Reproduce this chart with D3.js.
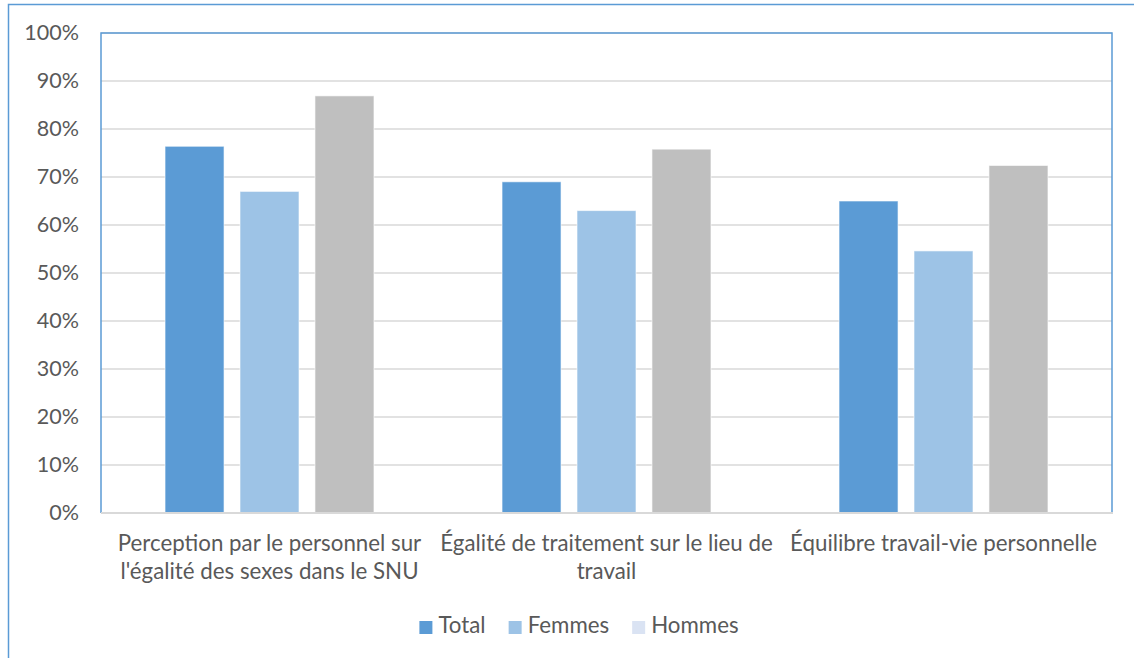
<!DOCTYPE html>
<html lang="fr">
<head>
<meta charset="utf-8">
<title>Égalité des sexes</title>
<script src="https://cdn.jsdelivr.net/npm/d3@7/dist/d3.min.js"></script>
<style>
  body { margin: 0; background: #fff; }
  .chart text { font-family: Lato, "Open Sans", sans-serif; fill: #595959; }
</style>
</head>
<body>
<svg class="chart" width="1134" height="658"></svg>
<script>
// data
var categories = [
  ["Perception par le personnel sur", "l'égalité des sexes dans le SNU"],
  ["Égalité de traitement sur le lieu de", "travail"],
  ["Équilibre travail-vie personnelle"]
]
var series = ["Total", "Femmes", "Hommes"]
var total  = [0.764, 0.690, 0.650]
var femmes = [0.670, 0.630, 0.546]
var hommes = [0.869, 0.758, 0.724]
var yTicks = [0, 0.1, 0.2, 0.3, 0.4, 0.5, 0.6, 0.7, 0.8, 0.9, 1]

var values = [total, femmes, hommes]
var colors = ["#5b9bd5", "#9dc3e6", "#bfbfbf"]
// the legend swatch for Hommes is a pale blue in the original
var legendColors = ["#5b9bd5", "#9dc3e6", "#dae3f3"]

var svg = d3.select(".chart")
var plot = {left: 101, right: 1112, top: 33, bottom: 513}

var x0 = d3.scaleBand()
  .domain(d3.range(categories.length))
  .range([plot.left, plot.right])

var gw = x0.bandwidth()
var x1 = d3.scaleBand()
  .domain(series)
  .range([gw * 0.19, gw * 0.81])
  .paddingInner(0.213)

var y = d3.scaleLinear()
  .domain([0, 1])
  .range([plot.bottom, plot.top])

// outer chart border (runs off the right and bottom edges)
svg.append("rect")
  .attr("x", 8.5).attr("y", 4.5)
  .attr("width", 1300).attr("height", 1000)
  .attr("fill", "none")
  .attr("stroke", "#5b9bd5")
  .attr("stroke-width", 1.5)

// gridlines
svg.append("g")
  .selectAll("line")
  .data(yTicks.slice(1))
  .enter().append("line")
    .attr("x1", plot.left).attr("x2", plot.right)
    .attr("y1", function(d) { return y(d) })
    .attr("y2", function(d) { return y(d) })
    .attr("stroke", "#d9d9d9")
    .attr("stroke-width", 1.5)

// bars
var groups = svg.append("g")
  .selectAll("g")
  .data(categories)
  .enter().append("g")
    .attr("transform", function(d, i) { return "translate(" + x0(i) + ",0)" })

groups.selectAll("rect")
  .data(function(d, i) {
    return series.map(function(s, j) { return {s: s, j: j, v: values[j][i]} })
  })
  .enter().append("rect")
    .attr("x", function(d) { return x1(d.s) })
    .attr("width", x1.bandwidth())
    .attr("y", function(d) { return y(d.v) })
    .attr("height", function(d) { return y(0) - y(d.v) })
    .attr("fill", function(d) { return colors[d.j] })
    .attr("stroke", "#ffffff")
    .attr("stroke-opacity", 0.6)
    .attr("stroke-width", 1)

// plot area border
svg.append("path")
  .attr("d", "M" + plot.left + "," + plot.bottom + "V" + plot.top + "H" + plot.right + "V" + plot.bottom)
  .attr("fill", "none")
  .attr("stroke", "#5b9bd5")
  .attr("stroke-width", 1.5)

// x axis line
svg.append("line")
  .attr("x1", plot.left).attr("x2", plot.right + 1)
  .attr("y1", plot.bottom).attr("y2", plot.bottom)
  .attr("stroke", "#d9d9d9")
  .attr("stroke-width", 2)

// y axis labels
var yAxis = d3.axisLeft(y)
  .tickValues(yTicks)
  .tickFormat(d3.format(".0%"))
  .tickSize(0)
  .tickPadding(22)

svg.append("g")
  .attr("transform", "translate(" + plot.left + ",0)")
  .call(yAxis)
  .call(function(g) { g.select(".domain").remove() })
  .selectAll("text")
    .attr("font-size", "21.5px")
    .attr("font-family", null)

// category labels
var catText = svg.append("g")
  .selectAll("text")
  .data(categories)
  .enter().append("text")
    .attr("text-anchor", "middle")
    .attr("font-size", "22.3px")
    .attr("x", function(d, i) { return x0(i) + gw / 2 })
    .attr("y", 551)

catText.selectAll("tspan")
  .data(function(d) { return d })
  .enter().append("tspan")
    .attr("x", function() { return d3.select(this.parentNode).attr("x") })
    .attr("dy", function(d, i) { return i ? 27.5 : 0 })
    .text(function(d) { return d })

// legend
var legend = svg.append("g")
var lx = 0
series.forEach(function(s, i) {
  var item = legend.append("g").attr("transform", "translate(" + lx + ",0)")
  item.append("rect")
    .attr("x", 0).attr("y", -12)
    .attr("width", 13).attr("height", 13)
    .attr("fill", legendColors[i])
  var t = item.append("text")
    .attr("x", 19).attr("y", 0)
    .attr("font-size", "22.3px")
    .text(s)
  lx += 19 + t.node().getComputedTextLength() + 23
})
var legendWidth = lx - 23
legend.attr("transform", "translate(" + (579 - legendWidth / 2) + ",633)")
</script>
</body>
</html>
